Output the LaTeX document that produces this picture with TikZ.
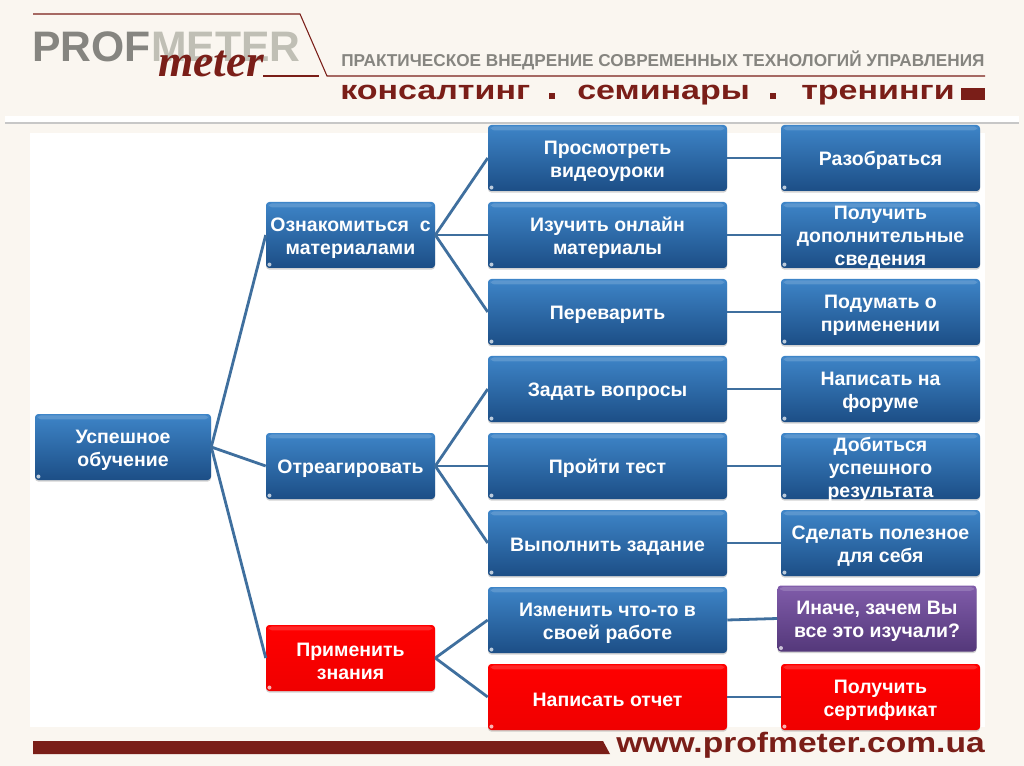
\documentclass[tikz,border=0pt]{standalone}
\usepackage{fontspec}
\usepackage{graphicx}
\setmainfont{Liberation Sans}
\newfontfamily\logoserif{Liberation Serif}
\usetikzlibrary{shadows}
\definecolor{paper}{HTML}{FAF6F0}
\definecolor{brandred}{HTML}{7A1E18}
\definecolor{brandgray}{HTML}{868580}
\definecolor{logolight}{HTML}{C0BFB5}
\definecolor{linkblue}{HTML}{3F6F9E}
\definecolor{bluetop}{HTML}{3E85C8}
\definecolor{bluelow}{HTML}{1C4E86}
\definecolor{violettop}{HTML}{805CAA}
\definecolor{violetlow}{HTML}{54387A}
\newcommand{\LiftLine}{\rule{0pt}{15pt}}
\newcommand{\LiftThree}{\rule{0pt}{12pt}}
\tikzset{
  blockbox/.style={rectangle,rounded corners=2.5pt,align=center,text=white,
    font=\fontsize{14.6}{17.25}\selectfont\bfseries,inner sep=0pt,
    minimum height=49.5pt,
    drop shadow={shadow xshift=0pt,shadow yshift=-1.2pt,opacity=.35},
    path picture={\fill[white,opacity=.16]
      ([xshift=2pt,yshift=-1pt]path picture bounding box.north west) rectangle
      ([xshift=-2pt,yshift=-4pt]path picture bounding box.north east);
      \fill[white,opacity=.7] ([shift={(2.6pt,2.6pt)}]path picture bounding box.south west) circle (1.5pt);}},
  bluebox/.style={blockbox,top color=bluetop,bottom color=bluelow},
  redbox/.style={blockbox,top color=red,bottom color=red!94!black},
  violetbox/.style={blockbox,top color=violettop,bottom color=violetlow},
  link/.style={linkblue,line width=2.1pt},
  brandtext/.style={anchor=base west,inner sep=0pt,brandred,font=\fontsize{20}{22}\selectfont\bfseries},
}
\begin{document}
\begin{tikzpicture}[x=.75pt,y=-.75pt]
\path[use as bounding box,fill=paper] (0,0) rectangle (1024,766);
\fill[white] (30,133) rectangle (985,727);
% header
\draw[brandred,line width=.8pt] (33,14)--(300,14)--(327,76)--(985,76);
\fill[white] (5,116) rectangle (1019,122);
\fill[black!22] (5,122) rectangle (1019,124);
\node[anchor=west,inner sep=0pt,brandgray,font=\fontsize{32}{32}\selectfont\bfseries] (prof) at (32,47) {PROF};
\node[anchor=west,inner sep=0pt,logolight,font=\fontsize{32}{32}\selectfont\bfseries] (metr) at (prof.east) {METER};
\node[anchor=west,inner sep=0pt,brandred,font=\fontsize{34}{34}\logoserif\bfseries\itshape] (mtr) at (158,64) {meter};
\fill[brandred] (263,75) rectangle (319,77);
\node[anchor=west,inner sep=0pt,brandgray,font=\fontsize{12.9}{15}\selectfont\bfseries] (slogan) at (341,60)
 {ПРАКТИЧЕСКОЕ ВНЕДРЕНИЕ СОВРЕМЕННЫХ ТЕХНОЛОГИЙ УПРАВЛЕНИЯ};
\node[brandtext] (srv1) at (340,100) {\scalebox{1.275}[1]{консалтинг}};
\node[brandtext] (srv2) at (577,100) {\scalebox{1.275}[1]{семинары}};
\node[brandtext] (srv3) at (801,100) {\scalebox{1.275}[1]{тренинги}};
\fill[brandred] (549,93) rectangle (555,99);
\fill[brandred] (770,93) rectangle (776,99);
\fill[brandred] (961,88) rectangle (985,100);
% footer
\fill[brandred] (33,741) -- (603,741) -- (610,754) -- (33,754) -- cycle;
\node[brandtext,anchor=base east,font=\fontsize{21}{23}\selectfont\bfseries] (site) at (985,752) {\scalebox{1.2}[1]{www.profmeter.com.ua}};
% tree
\node[bluebox,minimum width=132pt] (root) at (123,447) {\LiftLine Успешное\\обучение};
\node[bluebox,minimum width=126.75pt] (learn) at (350.5,235) {\LiftLine Ознакомиться\ \ с\\материалами};
\node[bluebox,minimum width=126.75pt] (react) at (350.5,466) {\LiftLine Отреагировать};
\node[redbox,minimum width=126.75pt] (apply) at (350.5,658) {\LiftLine Применить\\знания};
\foreach \Name/\Ypos/\Style/\Txt in {a/158/bluebox/Просмотреть\\видеоуроки,
  b/235/bluebox/Изучить онлайн\\материалы,
  c/312/bluebox/Переварить,
  d/389/bluebox/Задать вопросы,
  e/466/bluebox/Пройти тест,
  f/543/bluebox/Выполнить задание,
  g/620/bluebox/Изменить что-то в\\своей работе,
  h/697/redbox/Написать отчет}
  \node[\Style,minimum width=179.25pt] (step\Name) at (607.5,\Ypos) {\LiftLine\Txt};
\foreach \Name/\Ypos/\Style/\Txt in {a/158/bluebox/Разобраться,
  c/312/bluebox/Подумать о\\применении,
  d/389/bluebox/Написать на\\форуме,
  f/543/bluebox/Сделать полезное\\для себя,
  h/697/redbox/Получить\\сертификат}
  \node[\Style,minimum width=149.25pt] (res\Name) at (880.5,\Ypos) {\LiftLine\Txt};
\node[bluebox,minimum width=149.25pt] (resb) at (880.5,235) {\LiftThree Получить\\дополнительные\\\smash{сведения}};
\node[bluebox,minimum width=149.25pt] (rese) at (880.5,466) {\LiftThree Добиться\\успешного\\\smash{результата}};
\node[violetbox,minimum width=149.25pt] (resg) at (877,618.5) {\LiftLine Иначе, зачем Вы\\все это изучали?};
% links
\foreach \Kid in {learn,react,apply} \draw[link] (root.east)--(\Kid.west);
\foreach \Kid in {a,b,c} \draw[link] (learn.east)--(step\Kid.west);
\foreach \Kid in {d,e,f} \draw[link] (react.east)--(step\Kid.west);
\foreach \Kid in {g,h} \draw[link] (apply.east)--(step\Kid.west);
\foreach \Kid in {a,b,c,d,e,f,g,h} \draw[link] (step\Kid.east)--(res\Kid.west);
\end{tikzpicture}
\end{document}
